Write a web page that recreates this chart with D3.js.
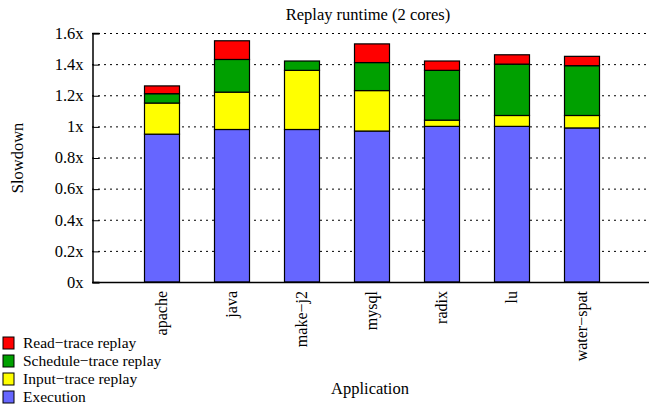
<!DOCTYPE html>
<html>
<head>
<meta charset="utf-8">
<script src="https://cdn.jsdelivr.net/npm/d3@7"></script>
<style>
  body { margin: 0; background: #fff; }
  svg { display: block; font-family: "Liberation Serif", "DejaVu Serif", serif; }
  svg text { font-family: "Liberation Serif", "DejaVu Serif", serif; }
</style>
</head>
<body>
<div id="chart"></div>
<script>
// apps and stacked segments (increments, bottom to top)
const apps = ["apache", "java", "make\u2212j2", "mysql", "radix", "lu", "water\u2212spat"];
const execution = [0.95, 0.98, 0.98, 0.97, 1.00, 1.00, 0.99];
const inputTrace = [0.20, 0.24, 0.38, 0.26, 0.04, 0.07, 0.08];
const scheduleTrace = [0.06, 0.21, 0.06, 0.18, 0.32, 0.33, 0.32];
const readTrace = [0.05, 0.12, 0.00, 0.12, 0.06, 0.06, 0.06];

const seriesNames = ["Execution", "Input\u2212trace replay", "Schedule\u2212trace replay", "Read\u2212trace replay"];
const seriesColors = ["#6666ff", "#ffff00", "#00a000", "#ff0000"];
const yTicks = [0, 0.2, 0.4, 0.6, 0.8, 1.0, 1.2, 1.4, 1.6];

const W = 649, H = 407;
const mLeft = 92, mTop = 33, mBottom = 282, mRight = 652;

const svg = d3.select("#chart").append("svg")
    .attr("width", W).attr("height", H);

const rows = apps.map((a, i) => ({
    app: a, i: i,
    execution: execution[i], input: inputTrace[i],
    schedule: scheduleTrace[i], read: readTrace[i]
}));
const keys = ["execution", "input", "schedule", "read"];
const stacked = d3.stack().keys(keys)(rows);

const x = d3.scaleLinear().domain([-1, 7]).range([mLeft, mRight]);
const y = d3.scaleLinear().domain([0, 1.6]).range([mBottom, mTop]);
const barW = 35;

// grid
svg.append("g")
    .selectAll("line")
    .data(yTicks.slice(1))
    .join("line")
    .attr("x1", mLeft).attr("x2", W)
    .attr("y1", d => y(d) + 0.5).attr("y2", d => y(d) + 0.5)
    .attr("stroke", "#000")
    .attr("stroke-width", 1)
    .attr("stroke-dasharray", "2,4");

// left axis
const yAxis = svg.append("g")
    .attr("transform", `translate(${mLeft + 0.5},0)`)
    .call(d3.axisLeft(y).tickValues(yTicks).tickSize(-7)
        .tickFormat(d => (+d.toFixed(1)) + "x").tickPadding(9));
yAxis.attr("font-family", null);
yAxis.select(".domain").attr("stroke", "#000").attr("stroke-width", 1.5);
yAxis.selectAll(".tick line").attr("transform", "translate(0,0.5)").attr("stroke-width", 1);
yAxis.selectAll("text").attr("font-size", 16.5).attr("fill", "#000");

// bars
svg.append("g")
    .selectAll("g")
    .data(stacked)
    .join("g")
    .attr("fill", (d, k) => seriesColors[k])
    .selectAll("rect")
    .data(d => d.filter(s => s[1] - s[0] > 0.001))
    .join("rect")
    .attr("x", d => x(d.data.i) - barW / 2)
    .attr("y", d => y(d[1]))
    .attr("width", barW)
    .attr("height", d => y(d[0]) - y(d[1]))
    .attr("stroke", "#000")
    .attr("stroke-width", 1.2);

// bottom axis line
svg.append("line")
    .attr("x1", mLeft).attr("x2", W)
    .attr("y1", mBottom + 0.5).attr("y2", mBottom + 0.5)
    .attr("stroke", "#000").attr("stroke-width", 1.5);

// x labels
svg.append("g")
    .selectAll("text")
    .data(apps)
    .join("text")
    .attr("transform", (d, i) => `translate(${x(i) + 5},${mBottom + 9}) rotate(-90)`)
    .attr("text-anchor", "end")
    .attr("font-size", 16)
    .text(d => d);

// title and axis titles
svg.append("text")
    .attr("x", 368).attr("y", 20)
    .attr("text-anchor", "middle").attr("font-size", 16.5)
    .text("Replay runtime (2 cores)");
svg.append("text")
    .attr("transform", "translate(23,158) rotate(-90)")
    .attr("text-anchor", "middle").attr("font-size", 16.5)
    .text("Slowdown");
svg.append("text")
    .attr("x", 370).attr("y", 394)
    .attr("text-anchor", "middle").attr("font-size", 16.5)
    .text("Application");

// legend (top: read, bottom: execution)
const legendOrder = [3, 2, 1, 0];
const lg = svg.append("g").selectAll("g")
    .data(legendOrder)
    .join("g")
    .attr("transform", (d, j) => `translate(3,${337 + j * 18})`);
lg.append("rect")
    .attr("width", 11).attr("height", 12)
    .attr("fill", d => seriesColors[d])
    .attr("stroke", "#000").attr("stroke-width", 1);
lg.append("text")
    .attr("x", 20).attr("y", 11)
    .attr("font-size", 15.5)
    .text(d => seriesNames[d]);
</script>
</body>
</html>
